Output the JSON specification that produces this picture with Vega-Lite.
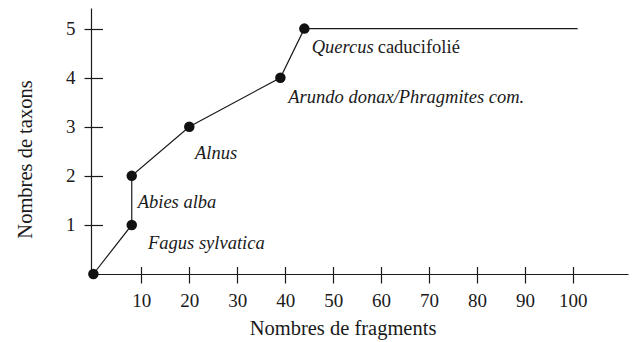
{
  "$schema": "https://vega.github.io/schema/vega-lite/v6.json",
  "width": 537,
  "height": 266,
  "autosize": {"type": "none"},
  "padding": {"left": 91, "top": 8, "right": 4, "bottom": 68},
  "background": "white",
  "config": {
    "view": {"stroke": null},
    "font": "Liberation Serif",
    "axis": {
      "grid": false,
      "domainColor": "#1a1a1a",
      "tickColor": "#1a1a1a",
      "labelColor": "#1a1a1a",
      "titleColor": "#1a1a1a",
      "labelFont": "Liberation Serif",
      "titleFont": "Liberation Serif",
      "labelFontSize": 19,
      "titleFontSize": 20.5,
      "titleFontWeight": "normal",
      "domainWidth": 1.2,
      "tickWidth": 1.2
    }
  },
  "datasets": {
    "taxa": [
      {"fragments": 0, "taxons": 0},
      {"fragments": 8, "taxons": 1},
      {"fragments": 8, "taxons": 2},
      {"fragments": 20, "taxons": 3},
      {"fragments": 39, "taxons": 4},
      {"fragments": 44, "taxons": 5}
    ],
    "plateau": [
      {"fragments": 44, "taxons": 5},
      {"fragments": 101, "taxons": 5}
    ],
    "labels": [
      {"fragments": 11.39, "taxons": 0.51, "label": "Fagus sylvatica"},
      {"fragments": 9.24, "taxons": 1.34, "label": "Abies alba"},
      {"fragments": 21.19, "taxons": 2.34, "label": "Alnus"},
      {"fragments": 40.65, "taxons": 3.48, "label": "Arundo donax/Phragmites com."},
      {"fragments": 45.53, "taxons": 4.5, "label": "Quercus"}
    ],
    "qualifier": [
      {"fragments": 59.29, "taxons": 4.5, "label": "caducifolié"}
    ]
  },
  "resolve": {
    "scale": {"x": "independent", "y": "independent"},
    "axis": {"x": "independent", "y": "independent"}
  },
  "layer": [
    {
      "data": {"name": "taxa"},
      "mark": {"type": "line", "color": "#1a1a1a", "strokeWidth": 1.2},
      "encoding": {
        "x": {
          "field": "fragments", "type": "quantitative",
          "scale": {"domain": [-0.5, 111.5], "nice": false, "zero": false},
          "axis": {
            "orient": "bottom",
            "values": [10, 20, 30, 40, 50, 60, 70, 80, 90, 100],
            "tickSize": 9,
            "labelPadding": 8,
            "title": "Nombres de fragments",
            "titleX": 251.5,
            "titleY": 60,
            "titleBaseline": "alphabetic",
            "titleAlign": "center"
          }
        },
        "y": {
          "field": "taxons", "type": "quantitative",
          "scale": {"domain": [0, 5.42], "nice": false, "zero": false},
          "axis": {
            "orient": "left",
            "values": [1, 2, 3, 4, 5],
            "tickSize": 7,
            "labelPadding": 9,
            "title": "Nombres de taxons",
            "titleAngle": -90,
            "titleX": -60,
            "titleY": 151,
            "titleBaseline": "alphabetic",
            "titleAlign": "center"
          }
        }
      }
    },
    {
      "data": {"name": "plateau"},
      "mark": {"type": "line", "color": "#1a1a1a", "strokeWidth": 1.2},
      "encoding": {
        "x": {"field": "fragments", "type": "quantitative",
          "scale": {"domain": [-0.5, 111.5], "nice": false, "zero": false},
          "axis": {
            "orient": "top",
            "offset": -265.5,
            "values": [10, 20, 30, 40, 50, 60, 70, 80, 90, 100],
            "tickSize": 7, "tickColor": "#1a1a1a", "labelExpr": "''", "domain": false, "title": null
        }},
        "y": {"field": "taxons", "type": "quantitative",
          "scale": {"domain": [0, 5.42], "nice": false, "zero": false},
          "axis": {
            "orient": "right",
            "offset": -536.5,
            "values": [1, 2, 3, 4, 5],
            "tickSize": 11, "tickColor": "#1a1a1a", "labelExpr": "''", "domain": false, "title": null
        }}
      }
    },
    {
      "data": {"name": "taxa"},
      "mark": {"type": "point", "filled": true, "color": "#111111", "size": 110, "opacity": 1},
      "encoding": {
        "x": {"field": "fragments", "type": "quantitative", "scale": {"domain": [-0.5, 111.5], "nice": false, "zero": false}, "axis": null},
        "y": {"field": "taxons", "type": "quantitative", "scale": {"domain": [0, 5.42], "nice": false, "zero": false}, "axis": null}
      }
    },
    {
      "data": {"name": "labels"},
      "mark": {"type": "text", "align": "left", "baseline": "alphabetic", "fontStyle": "italic", "fontSize": 18.5, "font": "Liberation Serif", "color": "#1a1a1a"},
      "encoding": {
        "x": {"field": "fragments", "type": "quantitative", "scale": {"domain": [-0.5, 111.5], "nice": false, "zero": false}, "axis": null},
        "y": {"field": "taxons", "type": "quantitative", "scale": {"domain": [0, 5.42], "nice": false, "zero": false}, "axis": null},
        "text": {"field": "label"}
      }
    },
    {
      "data": {"name": "qualifier"},
      "mark": {"type": "text", "align": "left", "baseline": "alphabetic", "fontSize": 18.5, "font": "Liberation Serif", "color": "#1a1a1a"},
      "encoding": {
        "x": {"field": "fragments", "type": "quantitative", "scale": {"domain": [-0.5, 111.5], "nice": false, "zero": false}, "axis": null},
        "y": {"field": "taxons", "type": "quantitative", "scale": {"domain": [0, 5.42], "nice": false, "zero": false}, "axis": null},
        "text": {"field": "label"}
      }
    }
  ]
}
